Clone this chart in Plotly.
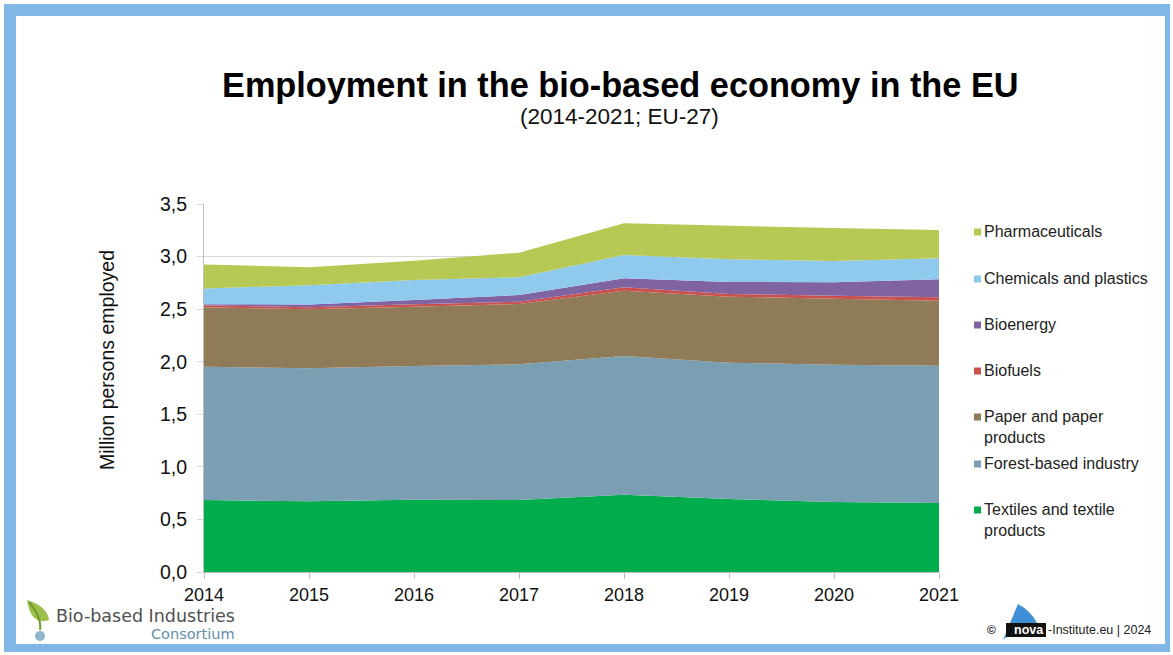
import plotly.graph_objects as go

years = [2014, 2015, 2016, 2017, 2018, 2019, 2020, 2021]
categories = ["Textiles and textile products", "Forest-based industry", "Paper and paper products",
              "Biofuels", "Bioenergy", "Chemicals and plastics", "Pharmaceuticals"]
textiles = [0.685, 0.672, 0.688, 0.685, 0.735, 0.694, 0.666, 0.656]
forest = [1.268, 1.265, 1.271, 1.290, 1.319, 1.297, 1.306, 1.306]
paper = [0.564, 0.561, 0.564, 0.574, 0.622, 0.628, 0.628, 0.619]
biofuels = [0.020, 0.020, 0.023, 0.022, 0.032, 0.025, 0.028, 0.031]
bioenergy = [0.010, 0.026, 0.041, 0.063, 0.085, 0.114, 0.127, 0.172]
chemicals = [0.150, 0.184, 0.190, 0.169, 0.222, 0.216, 0.203, 0.199]
pharma = [0.228, 0.171, 0.184, 0.234, 0.301, 0.317, 0.314, 0.270]
series = [textiles, forest, paper, biofuels, bioenergy, chemicals, pharma]
colors = ["#00AD4D", "#7A9FB2", "#8F7B58", "#C9514E", "#8064A2", "#90C9EE", "#B5C954"]
legend_labels = ["Textiles and textile<br>products", "Forest-based industry", "Paper and paper<br>products",
                 "Biofuels", "Bioenergy", "Chemicals and plastics", "Pharmaceuticals"]

W, H = 1173, 655
L, R, T, B = 204, 939, 204, 572


def px(x):
    return (x - L) / (R - L)


def py(y):
    return (B - y) / (B - T)


FONT = "Liberation Sans, Arial, sans-serif"

fig = go.Figure()
for name, vals, col in zip(categories, series, colors):
    fig.add_trace(go.Scatter(x=years, y=vals, name=name, mode="lines", stackgroup="one",
                             line=dict(width=0, color=col), fillcolor=col, showlegend=False))

shapes = []
annotations = []

# frame
shapes.append(dict(type="rect", xref="paper", yref="paper", x0=px(4), x1=px(1170), y0=py(652), y1=py(4),
                   fillcolor="#80B7E6", line=dict(width=0), layer="below"))
shapes.append(dict(type="rect", xref="paper", yref="paper", x0=px(16), x1=px(1165), y0=py(644), y1=py(16),
                   fillcolor="white", line=dict(width=0), layer="below"))

# custom legend (top to bottom)
legend_y = [232, 279, 325, 371, 417, 464, 510]
for i, yy in enumerate(legend_y):
    idx = len(categories) - 1 - i
    shapes.append(dict(type="rect", xref="paper", yref="paper", x0=px(974), x1=px(981),
                       y0=py(yy + 3.5), y1=py(yy - 3.5), fillcolor=colors[idx], line=dict(width=0)))
    annotations.append(dict(xref="paper", yref="paper", x=px(982), y=py(yy - 11), xanchor="left", yanchor="top",
                            text=legend_labels[idx], showarrow=False, align="left",
                            font=dict(family=FONT, size=16, color="#222222")))

# title / subtitle
annotations.append(dict(xref="paper", yref="paper", x=px(620), y=py(85), xanchor="center", yanchor="middle",
                        text="<b>Employment in the bio-based economy in the EU</b>", showarrow=False,
                        font=dict(family=FONT, size=34.3, color="#000000")))
annotations.append(dict(xref="paper", yref="paper", x=px(619), y=py(117), xanchor="center", yanchor="middle",
                        text="(2014-2021; EU-27)", showarrow=False,
                        font=dict(family=FONT, size=22.5, color="#111111")))
# y title
annotations.append(dict(xref="paper", yref="paper", x=px(107), y=py(360), xanchor="center", yanchor="middle",
                        text="Million persons employed", textangle=-90, showarrow=False,
                        font=dict(family=FONT, size=19.5, color="#111111")))

# Bio-based Industries Consortium logo
leaf = "M {} {} Q {} {} {} {} Q {} {} {} {} Z".format(
    px(27), py(600), px(31), py(626), px(49), py(620), px(47), py(606), px(27), py(600))
shapes.append(dict(type="path", xref="paper", yref="paper", path=leaf, fillcolor="#9DBE4A", line=dict(width=0)))
stem = "M {} {} Q {} {} {} {}".format(px(29), py(602), px(42), py(618), px(40), py(630))
shapes.append(dict(type="path", xref="paper", yref="paper", path=stem, line=dict(color="#6E9A2E", width=2)))
shapes.append(dict(type="circle", xref="paper", yref="paper", x0=px(35), x1=px(45), y0=py(641), y1=py(631),
                   fillcolor="#8FB4CF", line=dict(width=0)))
annotations.append(dict(xref="paper", yref="paper", x=px(237), y=py(616), xanchor="right", yanchor="middle",
                        text="Bio-based Industries", showarrow=False,
                        font=dict(family="DejaVu Sans, sans-serif", size=17.5, color="#505050")))
annotations.append(dict(xref="paper", yref="paper", x=px(237), y=py(634), xanchor="right", yanchor="middle",
                        text="Consortium", showarrow=False,
                        font=dict(family="DejaVu Sans, sans-serif", size=14.5, color="#5F8FAD")))

# nova-Institute logo
fin = "M {} {} L {} {} Q {} {} {} {} Q {} {} {} {} Z".format(
    px(1003), py(640), px(1018), py(604), px(1031), py(611), px(1037), py(623), px(1020), py(622), px(1003), py(640))
shapes.append(dict(type="path", xref="paper", yref="paper", path=fin, fillcolor="#3F8FD6", line=dict(width=0)))
shapes.append(dict(type="rect", xref="paper", yref="paper", x0=px(1006), x1=px(1046), y0=py(637), y1=py(623),
                   fillcolor="#111111", line=dict(width=0)))
annotations.append(dict(xref="paper", yref="paper", x=px(1029), y=py(630), xanchor="center", yanchor="middle",
                        text="<b>nova</b>", showarrow=False,
                        font=dict(family=FONT, size=12.5, color="white")))
annotations.append(dict(xref="paper", yref="paper", x=px(991), y=py(630), xanchor="center", yanchor="middle",
                        text="<b>©</b>", showarrow=False, font=dict(family=FONT, size=12, color="#222222")))
annotations.append(dict(xref="paper", yref="paper", x=px(1046), y=py(630), xanchor="left", yanchor="middle",
                        text="-Institute.eu | 2024", showarrow=False,
                        font=dict(family=FONT, size=12.5, color="#222222")))

fig.update_layout(
    width=W, height=H,
    margin=dict(l=L, r=W - R, t=T, b=H - B, pad=0),
    paper_bgcolor="white", plot_bgcolor="rgba(0,0,0,0)",
    separators=",.",
    showlegend=False,
    shapes=shapes, annotations=annotations,
    font=dict(family=FONT, color="#111111"),
    xaxis=dict(range=[2014, 2021], tickmode="array", tickvals=years, ticktext=[str(y) for y in years],
               showgrid=False, zeroline=False, showline=True, linecolor="#BFBFBF", linewidth=1,
               ticks="outside", ticklen=6, tickcolor="#BFBFBF",
               tickfont=dict(family=FONT, size=18, color="#111111")),
    yaxis=dict(range=[0, 3.5], dtick=0.5, tickformat=".1f", showgrid=True, gridcolor="#D9D9D9", gridwidth=1,
               zeroline=False, showline=True, linecolor="#BFBFBF", linewidth=1,
               ticks="outside", ticklen=6, tickcolor="#D9D9D9", ticklabelstandoff=6,
               tickfont=dict(family=FONT, size=19.5, color="#111111")),
)

fig.write_html("out.html", config={"displayModeBar": False},
               post_script="document.body.style.margin='0';")
